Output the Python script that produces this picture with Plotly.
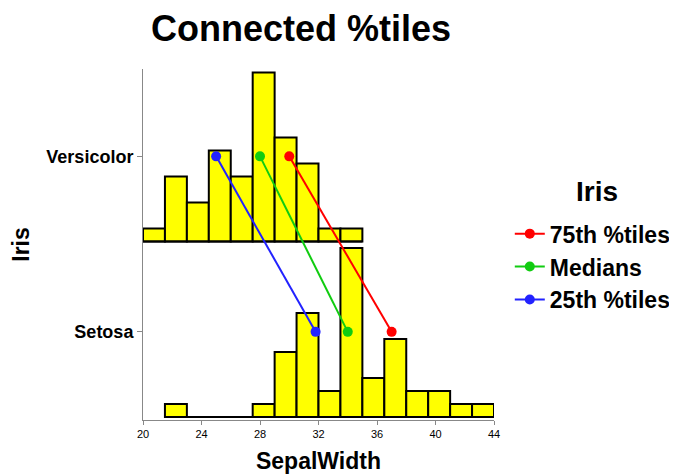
import numpy as np
import plotly.graph_objects as go

# %% data
bin_width = 1.5
species = ['Setosa', 'Versicolor']
vers_start = 20.0
vers_counts = [1, 5, 3, 7, 5, 13, 8, 6, 1, 1]
seto_start = 21.5
seto_counts = [1, 0, 0, 0, 1, 5, 8, 2, 13, 3, 6, 2, 2, 1, 1]

# percentiles of SepalWidth, order: Versicolor, Setosa
p75 = [30.0, 37.0]
p50 = [28.0, 34.0]
p25 = [25.0, 31.8]

x_ticks = [20, 24, 28, 32, 36, 40, 44]

# band layout on the y axis (one row per species)
band_base = {'Setosa': 0.0, 'Versicolor': 13.5}
tick_off = 6.55

FONT = 'Liberation Sans, Arial, sans-serif'
YELLOW = '#FFFF00'


def hist_traces(start, counts, base):
    edges = start + bin_width * np.arange(len(counts) + 1)
    centers = edges[:-1] + bin_width / 2
    # baseline so that empty bins still show the outline
    baseline = go.Scatter(x=[edges[0], edges[-1]], y=[base, base], mode='lines',
                          line=dict(color='black', width=2), showlegend=False,
                          hoverinfo='skip')
    bars = go.Bar(x=centers, y=counts, base=base, width=bin_width,
                  marker=dict(color=YELLOW, line=dict(color='black', width=2)),
                  showlegend=False)
    return baseline, bars


fig = go.Figure()
for name, start, counts in [('Versicolor', vers_start, vers_counts),
                            ('Setosa', seto_start, seto_counts)]:
    for tr in hist_traces(start, counts, band_base[name]):
        fig.add_trace(tr)

y_pts = [band_base['Versicolor'] + tick_off, band_base['Setosa'] + tick_off]
for label, vals, col in [('75th %tiles', p75, '#FF0000'),
                         ('Medians', p50, '#11CC11'),
                         ('25th %tiles', p25, '#2222FF')]:
    fig.add_trace(go.Scatter(x=vals, y=y_pts, mode='lines+markers',
                             name='<b>%s</b>' % label,
                             line=dict(color=col, width=2),
                             marker=dict(color=col, size=10)))

# page body adds an 8px offset, so the figure is 8px smaller than the window
fig.update_layout(
    width=669, height=468,
    margin=dict(l=135, r=183, t=61, b=56, autoexpand=False),
    paper_bgcolor='white', plot_bgcolor='white',
    barmode='overlay',
    font=dict(family=FONT, color='black'),
    title=dict(text='<b>Connected %tiles</b>', font=dict(size=36),
               x=0.45, xref='paper', xanchor='center',
               y=1 - 20 / 468, yref='container', yanchor='middle'),
    legend=dict(font=dict(size=23),
                x=1.045, xanchor='left', y=0.592, yanchor='top'),
)

# legend heading
fig.add_annotation(text='<b>Iris</b>', font=dict(size=28),
                   x=1.293, xref='paper', xanchor='center',
                   y=0.65, yref='paper', yanchor='middle', showarrow=False)

fig.update_xaxes(range=[20, 44], tickvals=x_ticks, ticktext=[str(v) for v in x_ticks],
                 showline=True, linecolor='#888888', linewidth=1,
                 ticks='outside', ticklen=4, tickcolor='#888888',
                 tickfont=dict(size=11), showgrid=False, zeroline=False,
                 automargin=False,
                 title=dict(text='<b>SepalWidth</b>', font=dict(size=23), standoff=13))

fig.update_yaxes(range=[-0.23, 26.77],
                 tickvals=[band_base[s] + tick_off for s in species],
                 ticktext=['<b>%s</b>' % s for s in species],
                 showline=True, linecolor='#888888', linewidth=1,
                 ticks='outside', ticklen=5, tickcolor='#888888',
                 tickfont=dict(size=18), showgrid=False, zeroline=False,
                 automargin=False,
                 title=dict(text='<b>Iris</b>', font=dict(size=23), standoff=16))

fig.write_html('out.html')
